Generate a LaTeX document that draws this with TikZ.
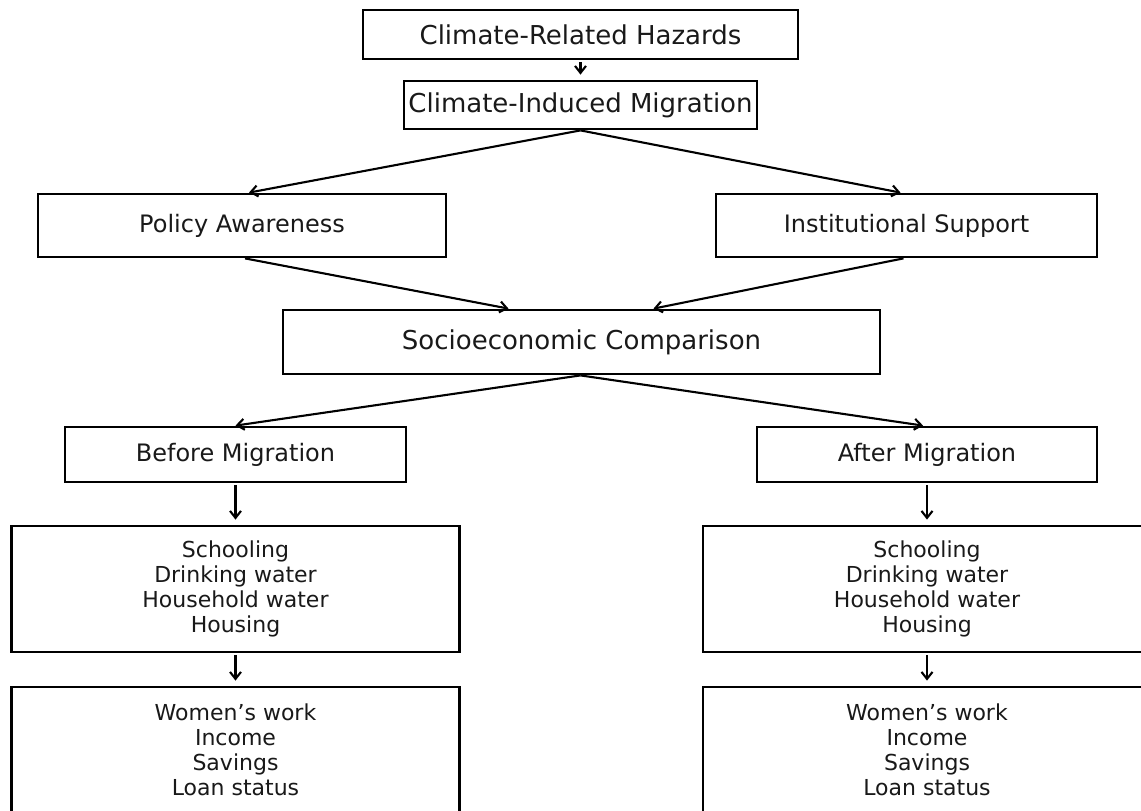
\documentclass[tikz,border=0pt]{standalone}
\usepackage{fontspec}
\setmainfont{DejaVu Sans}
\usetikzlibrary{arrows.meta}
\begin{document}
\begin{tikzpicture}[x=1bp,y=-1bp,
  box/.style={draw=black, line width=2.8bp, inner sep=0pt, align=center, text=black!90},
  big/.style={font=\fontsize{26bp}{30bp}\selectfont},
  mid/.style={font=\fontsize{24bp}{28bp}\selectfont},
  lst/.style={font=\fontsize{22bp}{25bp}\selectfont},
  arr/.style={line width=2.1bp, -{Straight Barb[length=7bp,width=11bp,line width=2.1bp]}},
  varr/.style={arr, shorten >=5bp, shorten <=2bp}]
\useasboundingbox (0,0) rectangle (1141,811);
\clip (0,0) rectangle (1141,811);
\fill[white] (0,0) rectangle (1141,811);
\node[box,big,minimum width=435bp,minimum height=49bp] (haz) at (580.5,34.5) {Climate-Related Hazards};
\node[box,big,minimum width=353bp,minimum height=48bp] (mig) at (580.5,105) {Climate-Induced Migration};
\node[box,mid,minimum width=408bp,minimum height=63bp] (pol) at (242,225.5) {Policy Awareness};
\node[box,mid,minimum width=381bp,minimum height=63bp] (ins) at (906.5,225.5) {Institutional Support};
\node[box,big,minimum width=597bp,minimum height=64bp] (soc) at (581.5,342) {Socioeconomic Comparison};
\node[box,mid,minimum width=341bp,minimum height=55bp] (bef) at (235.5,454.5) {Before Migration};
\node[box,mid,minimum width=340bp,minimum height=55bp] (aft) at (927,454.5) {After Migration};
\node[box,lst,minimum width=448bp,minimum height=126bp] (bl1) at (235.5,589) {Schooling\\Drinking water\\Household water\\Housing};
\node[box,lst,minimum width=448bp,minimum height=126bp] (bl2) at (235.5,750) {Women’s work\\Income\\Savings\\Loan status};
\node[box,lst,minimum width=448bp,minimum height=126bp] (ar1) at (927,589) {Schooling\\Drinking water\\Household water\\Housing};
\node[box,lst,minimum width=448bp,minimum height=126bp] (ar2) at (927,750) {Women’s work\\Income\\Savings\\Loan status};
\draw[varr] (haz.south) -- (mig.north);
\draw[arr] (mig.south) -- ([xshift=7bp]pol.north);
\draw[arr] (mig.south) -- ([xshift=-6bp]ins.north);
\draw[arr] ([xshift=3bp]pol.south) -- ([xshift=-73bp]soc.north);
\draw[arr] ([xshift=-3bp]ins.south) -- ([xshift=72bp]soc.north);
\draw[arr] ([xshift=-1bp]soc.south) -- (bef.north);
\draw[arr] ([xshift=-1bp]soc.south) -- ([xshift=-4bp]aft.north);
\draw[varr] (bef.south) -- (bl1.north);
\draw[varr] (bl1.south) -- (bl2.north);
\draw[varr] (aft.south) -- (ar1.north);
\draw[varr] (ar1.south) -- (ar2.north);
\end{tikzpicture}
\end{document}
